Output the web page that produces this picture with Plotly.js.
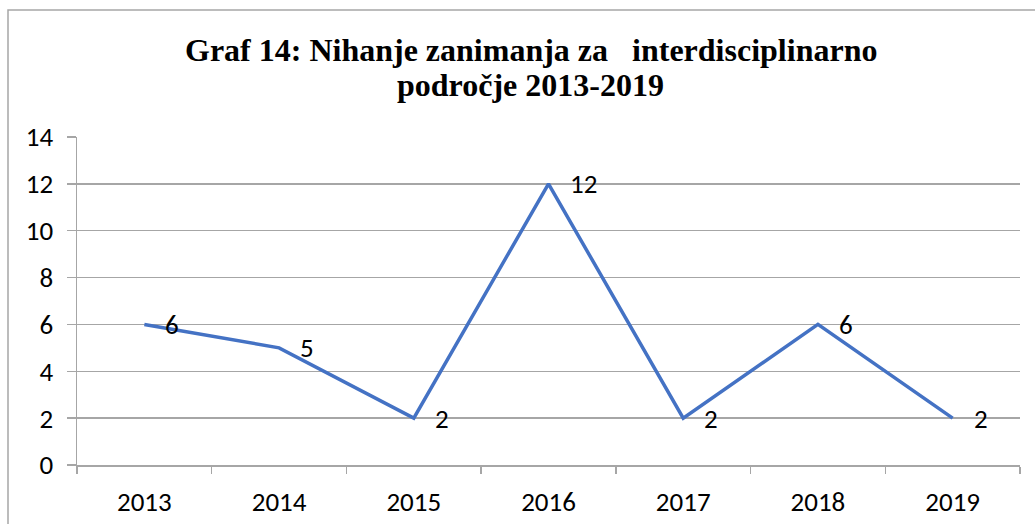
<!DOCTYPE html>
<html>
<head>
<meta charset="utf-8">
<script src="https://cdn.plot.ly/plotly-3.0.1.min.js"></script>
<style>
html, body { margin: 0; padding: 0; background: #ffffff; }
#chart { width: 1035px; height: 524px; }
</style>
</head>
<body>
<div id="chart"></div>
<script>
const years = ["2013", "2014", "2015", "2016", "2017", "2018", "2019"];
const counts = [6, 5, 2, 12, 2, 6, 2];
const yTicks = [0, 2, 4, 6, 8, 10, 12, 14];
const titleLine1 = "Graf 14: Nihanje zanimanja za\u00A0\u00A0 interdisciplinarno";
const titleLine2 = "področje 2013-2019";

const labelFont = { family: "Carlito, Lato, 'Liberation Sans', sans-serif", size: 27, color: "#000000" };
const gridColor = "#A6A6A6";

const trace = {
  x: years,
  y: counts,
  type: "scatter",
  mode: "lines",
  line: { color: "#4472C4", width: 3.5 },
  hoverinfo: "x+y"
};

const valueLabels = years.map((yr, i) => ({
  x: i, y: counts[i], xref: "x", yref: "y",
  text: String(counts[i]), showarrow: false,
  xanchor: "left", yanchor: "middle", xshift: 19,
  font: labelFont
}));

const titleFont = { family: "'Liberation Serif', 'Times New Roman', serif", size: 32, color: "#000000", weight: "bold" };

const layout = {
  width: 1035,
  height: 524,
  margin: { l: 77, r: 15, t: 137, b: 59 },
  paper_bgcolor: "#ffffff",
  plot_bgcolor: "#ffffff",
  showlegend: false,
  xaxis: {
    type: "category",
    range: [-0.5, 6.5],
    tickson: "boundaries",
    ticks: "outside",
    ticklen: 7,
    tickcolor: gridColor,
    tickwidth: 1.5,
    showgrid: false,
    showline: true,
    linecolor: gridColor,
    linewidth: 1.5,
    tickfont: labelFont,
    ticklabelstandoff: 12,
    zeroline: false,
    fixedrange: true
  },
  yaxis: {
    range: [0, 14],
    tickvals: yTicks,
    ticktext: yTicks.map(String),
    ticks: "outside",
    ticklen: 9,
    tickcolor: gridColor,
    tickwidth: 1.5,
    showgrid: true,
    gridcolor: gridColor,
    gridwidth: 1.5,
    showline: true,
    linecolor: gridColor,
    linewidth: 1.5,
    zeroline: false,
    tickfont: labelFont,
    ticklabelstandoff: 8,
    fixedrange: true
  },
  annotations: valueLabels.concat([
    { text: "<b>" + titleLine1 + "</b>", xref: "paper", yref: "paper", x: 0.4814, y: 1.2652,
      xanchor: "center", yanchor: "middle", showarrow: false, font: titleFont },
    { text: "<b>" + titleLine2 + "</b>", xref: "paper", yref: "paper", x: 0.4814, y: 1.1585,
      xanchor: "center", yanchor: "middle", showarrow: false, font: titleFont }
  ]),
  shapes: [
    { type: "rect", xref: "paper", yref: "paper",
      x0: -0.07317, x1: 1.0212, y0: -0.198, y1: 1.3872,
      line: { color: "#A6A6A6", width: 1.5 }, fillcolor: "rgba(0,0,0,0)", layer: "below" }
  ]
};

Plotly.newPlot("chart", [trace], layout, { displayModeBar: false, staticPlot: true });
</script>
</body>
</html>
